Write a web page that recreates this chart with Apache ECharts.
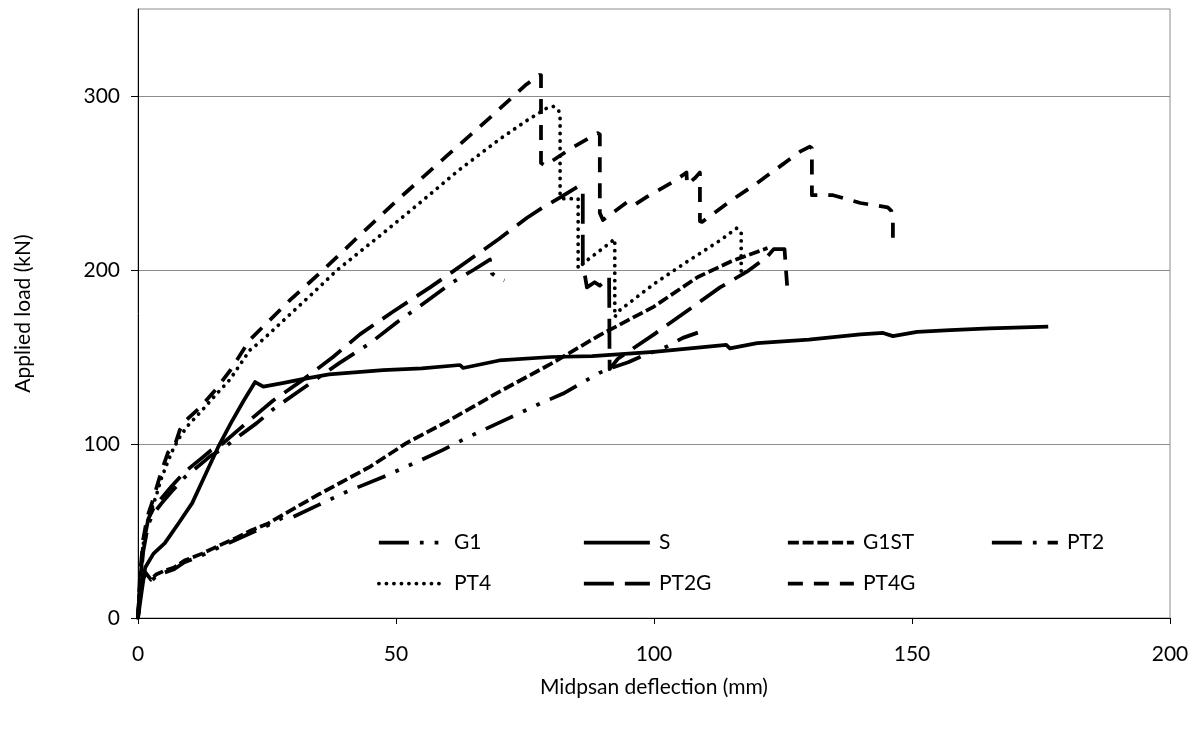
<!DOCTYPE html>
<html>
<head>
<meta charset="utf-8">
<script src="https://cdn.jsdelivr.net/npm/echarts@6/dist/echarts.min.js"></script>
<style>
html,body{margin:0;padding:0;background:#fff;}
#chart{width:1197px;height:729px;}
</style>
</head>
<body>
<div id="chart"></div>
<script>
// ---- data (x: midspan deflection mm, y: applied load kN) ----
const seriesNames = ['G1', 'S', 'G1ST', 'PT2', 'PT4', 'PT2G', 'PT4G'];
const xTicks = [0, 50, 100, 150, 200];
const yTicks = [0, 100, 200, 300];

const G1 = [[0,0],[0.3,12],[0.8,22],[1.5,25],[2.5,21],[3.5,24],[5,26],[7,28],[9,32],[12.4,36],[16,41],[19,45],[22,49],[25,53],[28,57.5],[30,58],[35,65],[40,72],[47.5,81],[55,91],[59,96.5],[63,102.5],[66.9,108],[72,115],[77.3,122.4],[82.4,129],[89.5,141],[92,144],[95,147],[97.3,150],[102.5,156],[105.6,161],[108.5,164]];

const S = [[0,0],[0.7,15],[1.4,29],[3,37],[5.2,43],[8,55],[10.5,66],[13,82],[15.5,98],[18,112],[20.5,125],[22.7,135.6],[24.3,133],[28,135],[31.4,137],[37,140],[47.5,142.5],[55,143.5],[62.4,145.4],[63,143.7],[70,148],[80,150],[88,150.5],[100,153],[114,157],[114.7,155],[120,158],[130,160],[140,163],[144.4,163.8],[146.3,162],[151,164.4],[157.4,165.5],[165,166.5],[176.4,167.5]];

const G1ST = [[0,0],[0.3,12],[0.8,22],[1.5,26],[2.5,22],[3.5,25],[5,27],[7,29],[9,33],[12.4,37],[16,42],[19,46],[22,50.5],[25,54],[28.5,60],[35,71],[40,79],[45,87],[52,100.5],[60,113],[70,130],[76,139.6],[80,146],[89.5,162.6],[100,179],[108.5,196],[115,205],[122,212.6]];

const PT2 = [[0,0],[0.4,18],[1,38],[2,54],[3,60],[4.6,66],[6.6,73],[9.1,81],[12.4,89],[14,93],[16.3,97],[19.8,105],[23,112],[26.2,120],[32,132],[39,146.5],[45,158],[50.2,170],[55,180],[61,193],[65,200],[68.2,206],[68.6,198],[69.5,196],[70.2,195],[71,194]];

const PT4 = [[0,0],[0.4,22],[1,42],[1.8,55],[2.7,63],[3.5,70],[4.5,80],[5.8,90],[6.8,97],[8.1,104],[9.5,110],[12,118],[15,128],[17.8,137],[21.7,154],[24.2,160],[30,176],[34,187],[38.6,200],[47,220],[55.2,240],[62,257],[70,275],[75.4,286],[79.2,293],[80.5,294],[81.5,292],[81.8,288],[81.8,242],[82.5,241],[85.3,241],[85.3,201],[86.6,204.6],[89,210],[92.4,217.8],[92.4,173],[93.4,177],[100,192],[106,204],[112.8,217],[116,224],[116.9,222],[116.9,196]];

const PT2G = [[0,0],[0.4,20],[1,42],[2,57],[3,63],[4.6,69],[6.6,76],[9.1,84],[12.4,92],[14,96],[16.3,100],[19.8,109],[23,117],[26.2,125],[32,137],[37.8,150],[43,163],[49.4,176],[56.6,190],[60,197],[64.3,206],[70,218],[75.4,230],[78.5,236],[82,242],[85.3,248],[86.2,246],[86.2,204],[87,190],[88.5,193],[89.5,191],[91.3,196],[91.4,143],[93,149],[100,163],[107.6,179],[112.8,190],[118,199],[121.9,207.5],[123.2,212],[125.3,212],[125.6,199],[125.8,191]];

const PT4G = [[0,0],[0.4,25],[1,45],[1.8,58],[2.7,66],[3.5,74],[4.5,84],[5.8,95],[7.2,100],[8.1,108],[9.1,113],[12,121],[15,131],[17.8,142],[21.7,160],[29.5,182.8],[35.9,200],[43,220],[50.2,240],[60,266],[68,287],[75,306],[77.7,312],[78.1,312],[78.1,261.5],[78.9,260],[84,270],[89.1,278.7],[89.5,278],[89.5,232.7],[90.1,228.7],[94.8,239],[96,237],[98.6,242],[103.7,250.6],[106.3,256],[106.4,249],[108,253],[108.9,256],[108.9,228],[109.3,227.6],[115,240],[120,250],[128.3,268],[130.2,270.9],[130.6,270],[130.6,243],[134.7,243],[140,238.5],[145.3,236],[146,234],[146.3,228.7],[146.3,214]];

const seriesData = [G1, S, G1ST, PT2, PT4, PT2G, PT4G];

// ---- styles ----
const W = 3.75;
const dashes = {
  G1:   [30, 11, 3.75, 11, 3.75, 11],
  S:    'solid',
  G1ST: [11, 3.75],
  PT2:  [30, 11, 3.75, 11],
  PT4:  [0.1, 7.4],
  PT2G: [30, 11],
  PT4G: [15, 11]
};
const caps = { PT4: 'round' };
const FONT = 'Lato';
const FS = 21;

const legendPos = {
  G1:   [377, 532], S:    [582, 532], G1ST: [786, 532], PT2: [990, 532],
  PT4:  [377, 573], PT2G: [582, 573], PT4G: [786, 573]
};

const legends = seriesNames.map(n => ({
  data: [n],
  left: legendPos[n][0],
  top: legendPos[n][1],
  padding: 0,
  itemWidth: 66,
  itemHeight: 20,
  selectedMode: false,
  itemStyle: { color: 'transparent', borderColor: 'transparent', borderWidth: 0, opacity: 0 },
  lineStyle: { color: '#000', width: W, type: dashes[n], cap: caps[n] || 'butt' },
  textStyle: { fontFamily: FONT, fontSize: FS, color: '#000', padding: [0, 0, 0, 4] }
}));

const series = seriesNames.map((n, i) => ({
  name: n,
  type: 'line',
  data: seriesData[i],
  symbol: 'none',
  showSymbol: false,
  smooth: false,
  animation: false,
  lineStyle: { color: '#000', width: W, type: dashes[n], cap: caps[n] || 'butt', join: 'round' },
  itemStyle: { color: '#000' }
}));

const chart = echarts.init(document.getElementById('chart'), null, { renderer: 'canvas' });
chart.setOption({
  animation: false,
  backgroundColor: '#fff',
  grid: { left: 138, right: 27, top: 9, bottom: 111, show: true, borderColor: '#8c8c8c', borderWidth: 1, backgroundColor: 'transparent' },
  legend: legends,
  xAxis: {
    type: 'value', min: 0, max: 200, interval: 50,
    name: 'Midpsan deflection (mm)', nameLocation: 'middle', nameGap: 59,
    nameTextStyle: { fontFamily: FONT, fontSize: FS, color: '#000' },
    axisLine: { show: true, lineStyle: { color: '#000', width: 1 } },
    axisTick: { show: true, inside: false, length: 6, lineStyle: { color: '#000' } },
    axisLabel: { fontFamily: FONT, fontSize: FS, color: '#000', margin: 26, customValues: xTicks },
    splitLine: { show: false }
  },
  yAxis: {
    type: 'value', min: 0, max: 350, interval: 100,
    name: 'Applied load (kN)', nameLocation: 'middle', nameGap: 104, nameRotate: 90,
    nameTextStyle: { fontFamily: FONT, fontSize: FS, color: '#000' },
    axisLine: { show: true, lineStyle: { color: '#000', width: 1 } },
    axisTick: { show: true, inside: false, length: 7, lineStyle: { color: '#000' }, customValues: yTicks },
    axisLabel: { fontFamily: FONT, fontSize: FS, color: '#000', margin: 18, customValues: yTicks },
    splitLine: { show: true, lineStyle: { color: '#8c8c8c', width: 1 } }
  },
  series: series
});
</script>
</body>
</html>
